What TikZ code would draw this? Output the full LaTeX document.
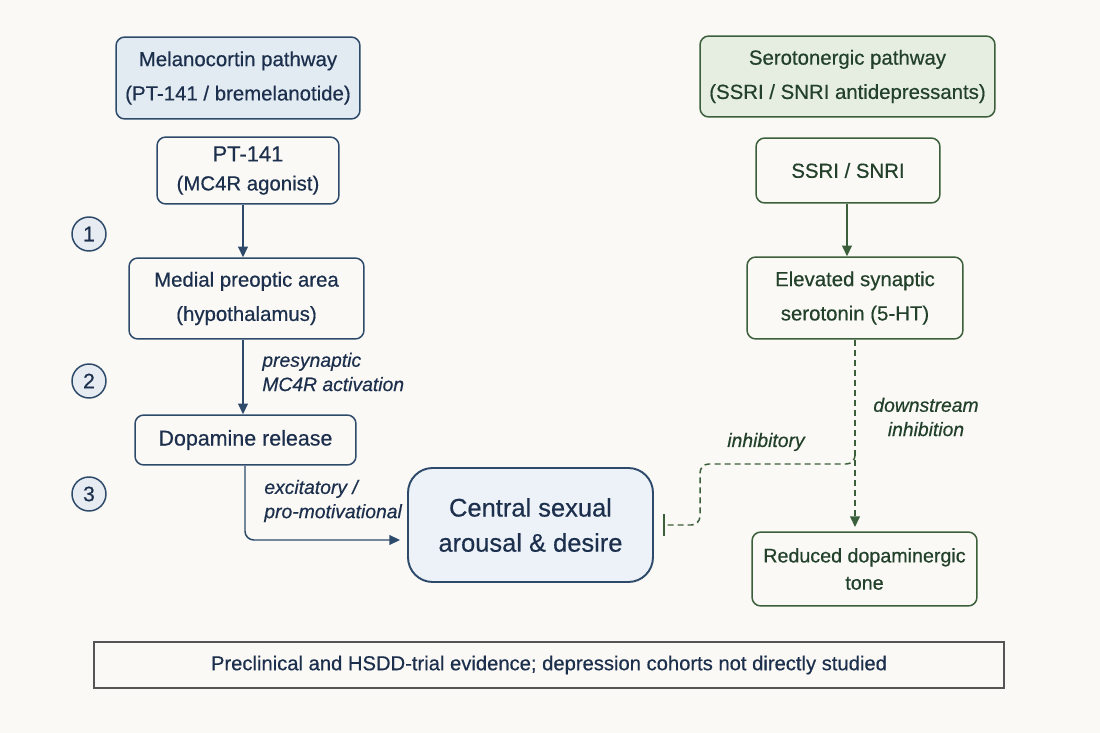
\documentclass[tikz,border=0pt]{standalone}
\usepackage{fontspec}
\setmainfont{Liberation Sans}[FakeBold=0.5]
\usetikzlibrary{arrows.meta}
\definecolor{bg}{HTML}{FAF9F5}
\definecolor{navy}{HTML}{2E4A6B}
\definecolor{navytext}{HTML}{1C2F4C}
\definecolor{bluefill}{HTML}{E2EAF2}
\definecolor{circfill}{HTML}{E6ECF2}
\definecolor{centfill}{HTML}{EDF2F8}
\definecolor{grn}{HTML}{3A5F3A}
\definecolor{grntext}{HTML}{22402A}
\definecolor{grnfill}{HTML}{E6EEE2}
\definecolor{graybd}{HTML}{555555}
\tikzset{
  bbox/.style={draw=navy, line width=0.85pt, rounded corners=5pt, text=navytext, align=center, inner sep=0pt},
  gbox/.style={draw=grn, line width=0.85pt, rounded corners=5pt, text=grntext, align=center, inner sep=0pt},
  f11/.style={font=\fontsize{11.6}{19.5}\selectfont},
  f11b/.style={font=\fontsize{11.6}{16.5}\selectfont},
  lbl/.style={font=\fontsize{11}{13.8}\selectfont\itshape, align=left, inner sep=0pt},
  stepnum/.style={circle, draw=navy, fill=circfill, line width=0.85pt, minimum size=0.68cm, inner sep=0pt, text=navytext, font=\fontsize{12}{13}\selectfont},
  barrow/.style={draw=navy, line width=0.85pt, -{Triangle[length=6pt,width=5.5pt]}},
  garrow/.style={draw=grn, line width=0.85pt, -{Triangle[length=6pt,width=5.5pt]}},
  gdash/.style={dash pattern=on 3.4pt off 2.3pt},
}
\begin{document}
\begin{tikzpicture}[x=0.02cm,y=-0.02cm]
\fill[bg] (0,0) rectangle (1100,733);
\useasboundingbox (0,0) rectangle (1100,733);
% left column
\node[bbox, f11, fill=bluefill, minimum width=4.88cm, minimum height=1.64cm] (mel) at (238,78) {Melanocortin pathway\\(PT-141 / bremelanotide)};
\node[bbox, f11b, minimum width=3.64cm, minimum height=1.34cm] (pt) at (248,170.5) {{\fontsize{12.5}{16.5}\selectfont PT-141}\\(MC4R agonist)};
\node[bbox, f11, minimum width=4.7cm, minimum height=1.62cm] (mpa) at (246.5,298.5) {Medial preoptic area\\(hypothalamus)};
\node[bbox, font=\fontsize{12.2}{15}\selectfont, minimum width=4.42cm, minimum height=1.0cm] (dop) at (245.5,440) {Dopamine release};
\node[bbox, font=\fontsize{14.5}{20}\selectfont, fill=centfill, line width=1.1pt, rounded corners=14pt, minimum width=4.9cm, minimum height=2.28cm] (cen) at (530.5,525) {Central sexual\\arousal \& desire};
% step circles
\node[stepnum] (s1) at (89,234) {1};
\node[stepnum] (s2) at (89,381) {2};
\node[stepnum] (s3) at (89,494) {3};
% right column
\node[gbox, f11, fill=grnfill, minimum width=5.9cm, minimum height=1.62cm] (ser) at (847.5,76.5) {Serotonergic pathway\\(SSRI / SNRI antidepressants)};
\node[gbox, f11, minimum width=3.68cm, minimum height=1.3cm] (ssri) at (848,170.5) {SSRI / SNRI};
\node[gbox, f11, minimum width=4.32cm, minimum height=1.64cm] (elev) at (855,298) {Elevated synaptic\\serotonin (5-HT)};
\node[gbox, font=\fontsize{11.2}{15.5}\selectfont, minimum width=4.5cm, minimum height=1.48cm] (red) at (864.5,569) {Reduced dopaminergic\\tone};
% bottom note
\node[draw=graybd, line width=0.7pt, minimum width=18.2cm, minimum height=0.92cm, inner sep=0pt, text=navytext, font=\fontsize{11.5}{13}\selectfont] (note) at (549,665) {Preclinical and HSDD-trial evidence; depression cohorts not directly studied};
% left arrows
\draw[barrow] (pt.south -| 243,0) -- (mpa.north -| 243,0);
\draw[barrow] (mpa.south -| 243,0) -- (dop.north -| 243,0);
\node[lbl, anchor=west, text=navytext] (l1) at (262,372) {presynaptic\\MC4R activation};
\draw[barrow, rounded corners=5pt] (dop.south -| 245,0) |- ([xshift=-4pt]cen.west |- 0,540);
\node[lbl, anchor=west, text=navytext] (l2) at (264,501) {excitatory /\\pro-motivational};
% right arrows
\draw[garrow] (ssri.south -| 847,0) -- (elev.north -| 847,0);
\draw[garrow, gdash] (elev.south) -- (elev.south |- 0,527);
\node[lbl, align=center, text=grntext] (l3) at (926,417) {downstream\\inhibition};
\coordinate (j) at (855,456);
\draw[draw=grn, line width=0.85pt, gdash, rounded corners=5pt, -{Bar[width=12pt,line width=1.3pt]}] (j) |- (700,464) |- ([xshift=5pt]cen.east);
\node[lbl, text=grntext] (l4) at (766,442) {inhibitory};
\end{tikzpicture}
\end{document}
